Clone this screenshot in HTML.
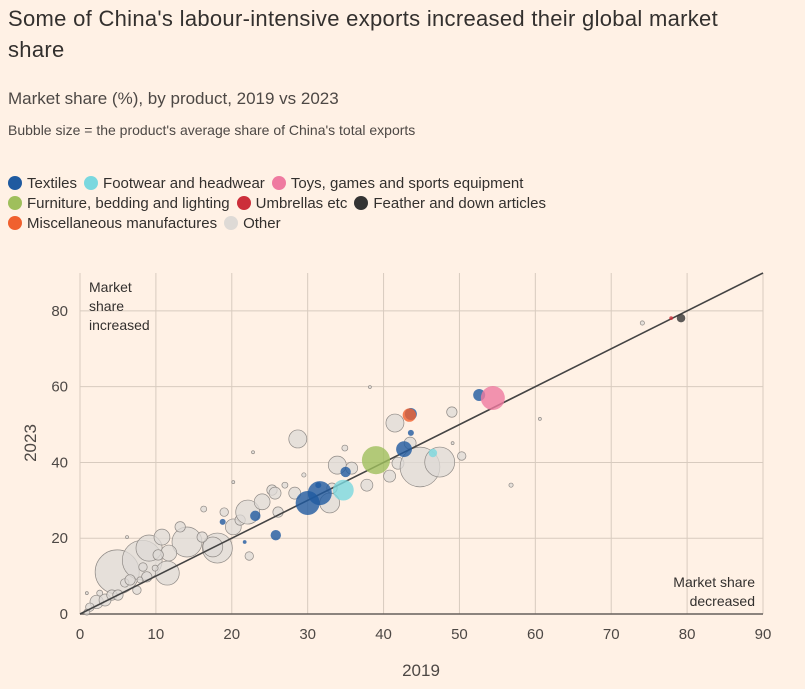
<!DOCTYPE html>
<html><head><meta charset="utf-8">
<style>
body{margin:0;background:#fff1e5;font-family:"Liberation Sans",sans-serif;color:#33302e;}
#wrap{position:relative;width:805px;height:689px;overflow:hidden;background:#fff1e5;}
.t{position:absolute;left:8px;}
.leg{position:absolute;left:8px;font-size:15px;line-height:20px;}
.leg span{display:inline-block;margin-right:7px;}
.leg i{display:inline-block;width:14px;height:14px;border-radius:50%;vertical-align:-2px;margin-right:5px;}
</style></head><body>
<div id="wrap">
<div class="t" style="top:3px;font-size:22px;line-height:31px;width:730px;letter-spacing:0.3px;">Some of China's labour-intensive exports increased their global market share</div>
<div class="t" style="top:89px;font-size:17px;color:#4d4845;">Market share (%), by product, 2019 vs 2023</div>
<div class="t" style="top:122px;font-size:14px;color:#4d4845;">Bubble size = the product's average share of China's total exports</div>
<div class="leg" style="top:174px;">
<div><span><i style="background:#1f5aa0"></i>Textiles</span><span><i style="background:#7ad8df"></i>Footwear and headwear</span><span><i style="background:#ef7aa0"></i>Toys, games and sports equipment</span></div>
<div><span><i style="background:#9fbf5c"></i>Furniture, bedding and lighting</span><span><i style="background:#cc2e3a"></i>Umbrellas etc</span><span><i style="background:#333"></i>Feather and down articles</span></div>
<div><span><i style="background:#f0602e"></i>Miscellaneous manufactures</span><span><i style="background:#dedad6"></i>Other</span></div>
</div>
<svg id="chart" width="805" height="689" style="position:absolute;left:0;top:0"></svg>
</div>
<script>
const xTicks=[0,10,20,30,40,50,60,70,80,90];
const yTicks=[0,20,40,60,80];
const otherX=[4.9,8.2,9.1,11.5,14.1,10.8,13.2,18.1,17.5,16.1,19.0,16.3,20.2,21.1,22.1,24.0,25.3,11.7,10.3,2.2,3.3,4.2,5.0,1.3,0.9,2.6,5.9,6.6,7.5,8.8,7.9,8.3,9.9,28.7,41.5,49.0,43.5,33.9,35.8,40.8,41.9,37.8,32.9,33.2,28.3,25.7,27.0,26.1,50.3,34.9,56.8,29.5,38.2,49.1,74.1,60.6,44.8,47.4,20.2,22.8,6.2,0.9,22.3];
const otherY=[11.1,14.2,17.4,10.8,19.0,20.3,23.0,17.4,17.7,20.3,26.9,27.7,23.0,24.8,26.9,29.6,32.7,16.1,15.6,3.2,3.7,5.0,5.0,1.8,0.5,5.5,8.2,9.0,6.3,9.8,9.0,12.4,12.1,46.2,50.4,53.3,45.1,39.3,38.5,36.4,39.8,34.0,29.3,33.2,31.9,31.9,34.0,26.9,41.7,43.8,34.0,36.7,59.9,45.1,76.8,51.5,38.8,40.1,34.8,42.7,20.3,5.5,15.3];
const otherS=[54,44,19,16,25,7,3,25,11,3,2,1,7,3,16,7,3,7,3,5,4,3,3,2,1,1,2,3,2,3,1,2,1,9,9,3,4,9,4,4,4,4,11,3,4,4,1,3,2,1,0.5,0.5,0.25,0.25,0.5,0.25,44,25,0.25,0.25,0.25,0.25,2];
const hlGroup=['textiles','textiles','textiles','textiles','textiles','textiles','textiles','textiles','textiles','textiles','textiles','textiles','footwear','footwear','toys','furniture','misc','umbrellas','feather'];
const hlX=[30.0,31.6,35.0,42.7,43.6,43.6,52.6,25.8,31.4,23.1,18.8,21.7,34.7,46.5,54.4,39.0,43.4,77.9,79.2];
const hlY=[29.3,31.9,37.5,43.5,52.8,47.8,57.8,20.8,34.0,25.9,24.3,19.0,32.7,42.5,57.0,40.6,52.5,78.1,78.1];
const hlS=[16,16,3,7,4,1,4,3,1,3,1,0.4,12,2,16,22,5,0.4,2];
const colors={textiles:'#1f5aa0',footwear:'#7ad8df',toys:'#ef7aa0',furniture:'#9fbf5c',misc:'#f0602e',umbrellas:'#cc2e3a',feather:'#333333'};

const NS='http://www.w3.org/2000/svg';
const svg=document.getElementById('chart');
const X0=80,X1=763,Y0=614,Y1=273;
const xs=v=>X0+v/90*(X1-X0);
const ys=v=>Y0-v/90*(Y0-Y1);
const rs=s=>Math.sqrt(s)*3;
function mk(tag,a,p){const e=document.createElementNS(NS,tag);for(const k in a)e.setAttribute(k,a[k]);(p||svg).appendChild(e);return e;}
xTicks.forEach(t=>{
  const l=mk('line',{x1:xs(t),x2:xs(t),y1:Y1,y2:Y0,stroke:'#d8cbbf','stroke-width':1});
  
  
  const tx=mk('text',{x:xs(t),y:639,'text-anchor':'middle','font-size':15,fill:'#4d4845'});
  tx.textContent=t;
  
  
});
yTicks.forEach(t=>{
  const l=mk('line',{x1:X0,x2:X1,y1:ys(t),y2:ys(t),stroke:t===0?'#66605c':'#d8cbbf','stroke-width':t===0?1.5:1});
  
  
  const tx=mk('text',{x:68,y:ys(t)+5,'text-anchor':'end','font-size':15,fill:'#4d4845'});
  tx.textContent=t;
  
  
});
function bubble(x,y,s,fill,stroke,name,op){
  const c=mk('circle',{cx:xs(x),cy:ys(y),r:Math.max(rs(s),1.3),fill:fill,stroke:stroke,'stroke-width':0.7,'fill-opacity':op});
  
  
}
otherX.forEach((x,i)=>bubble(x,otherY[i],otherS[i],'#dedad6','#8f8a86','bubble-other',0.75));
const dl=mk('line',{x1:xs(0),y1:ys(0),x2:xs(90),y2:ys(90),stroke:'#444','stroke-width':1.6});


hlX.forEach((x,i)=>bubble(x,hlY[i],hlS[i],colors[hlGroup[i]],'none','bubble-'+hlGroup[i],0.8));
function txt(x,y,s,opt,name){const t=mk('text',Object.assign({x:x,y:y,'font-size':14,fill:'#33302e'},opt));t.textContent=s;return t;}
txt(89,292,'Market',{},'annotation-increased');
txt(89,311,'share',{},'annotation-increased');
txt(89,330,'increased',{},'annotation-increased');
txt(755,587,'Market share',{'text-anchor':'end'},'annotation-decreased');
txt(755,606,'decreased',{'text-anchor':'end'},'annotation-decreased');
txt(421,676,'2019',{'text-anchor':'middle','font-size':17,fill:'#4d4845'},'x-axis-title');
txt(0,0,'2023',{'text-anchor':'middle','font-size':17,fill:'#4d4845',transform:'translate(36,443) rotate(-90)'},'y-axis-title');
</script>
</body></html>
